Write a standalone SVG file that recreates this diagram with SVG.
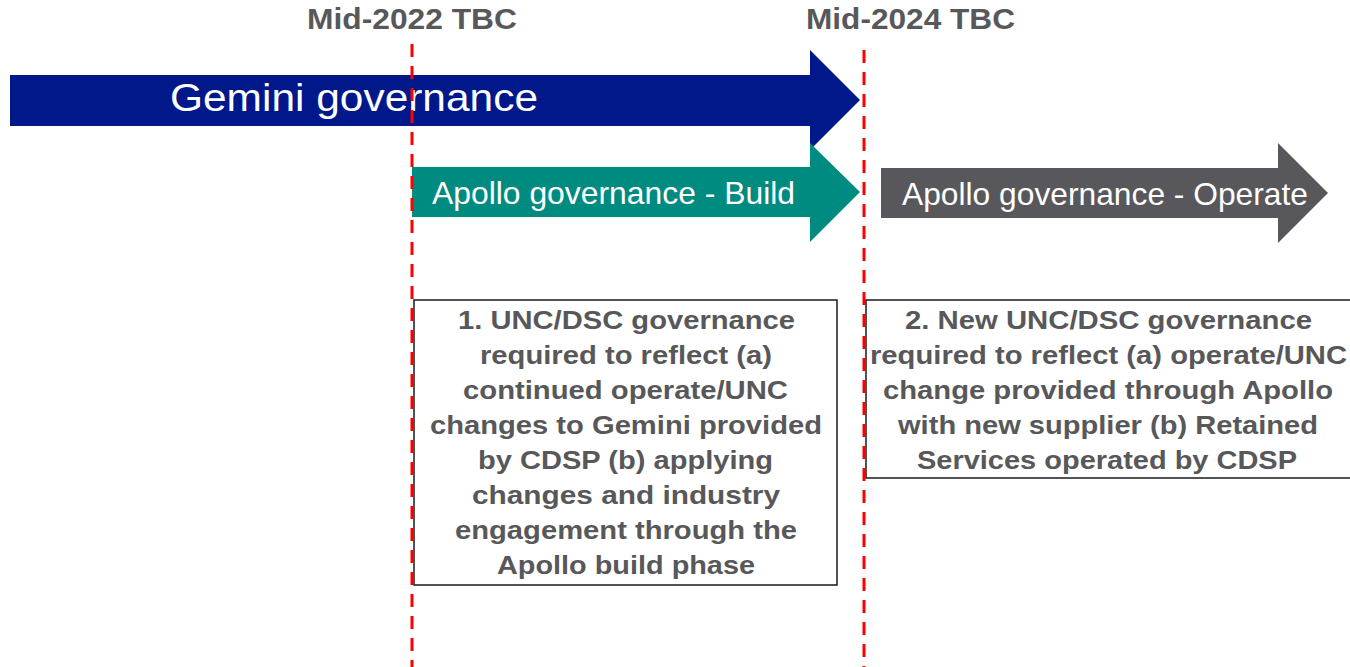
<svg xmlns="http://www.w3.org/2000/svg" width="1350" height="667" viewBox="0 0 1350 667">
<style>
.date{font-family:"Liberation Sans",Arial,sans-serif;font-weight:bold;font-size:29px;fill:#58585a}
.lbl{font-family:"Liberation Sans",Arial,sans-serif;fill:#ffffff}
.box{fill:#ffffff;stroke:#1a1a1a;stroke-width:1.5}
.bt{font-family:"Liberation Sans",Arial,sans-serif;font-weight:bold;font-size:26px;fill:#58585a}
.div{stroke:#ff0000;stroke-width:3;stroke-dasharray:13 9;fill:none}
</style>
<rect width="1350" height="667" fill="#ffffff"/>
<g id="gemini">
<polygon points="10,75 810,75 810,50 860,100 810,150 810,126 10,126" fill="#00188a"/>
<text class="lbl" x="170" y="111" font-size="39" textLength="368" lengthAdjust="spacingAndGlyphs">Gemini governance</text>
</g>
<g id="build">
<polygon points="412,167 810,167 810,143 860,192 810,242 810,217 412,217" fill="#008b80"/>
<text class="lbl" x="432" y="204" font-size="32" textLength="363" lengthAdjust="spacingAndGlyphs">Apollo governance - Build</text>
</g>
<g id="operate">
<polygon points="881,168 1278,168 1278,143 1328,193 1278,243 1278,218 881,218" fill="#58585c"/>
<text class="lbl" x="902" y="205" font-size="32" textLength="406" lengthAdjust="spacingAndGlyphs">Apollo governance - Operate</text>
</g>
<g id="box1">
<rect class="box" x="414" y="300" width="423" height="285"/>
<text class="bt"><tspan x="458" y="329" textLength="337" lengthAdjust="spacingAndGlyphs">1. UNC/DSC governance</tspan><tspan x="480" y="364" textLength="292" lengthAdjust="spacingAndGlyphs">required to reflect (a)</tspan><tspan x="463" y="399" textLength="325" lengthAdjust="spacingAndGlyphs">continued operate/UNC</tspan><tspan x="430" y="434" textLength="392" lengthAdjust="spacingAndGlyphs">changes to Gemini provided</tspan><tspan x="478" y="469" textLength="295" lengthAdjust="spacingAndGlyphs">by CDSP (b) applying</tspan><tspan x="472" y="504" textLength="308" lengthAdjust="spacingAndGlyphs">changes and  industry</tspan><tspan x="455" y="539" textLength="342" lengthAdjust="spacingAndGlyphs">engagement through the</tspan><tspan x="497" y="574" textLength="258" lengthAdjust="spacingAndGlyphs">Apollo build phase</tspan></text>
</g>
<g id="box2">
<rect class="box" x="866" y="300" width="490" height="178"/>
<text class="bt"><tspan x="905" y="329" textLength="407" lengthAdjust="spacingAndGlyphs">2. New UNC/DSC governance</tspan><tspan x="870" y="364" textLength="477" lengthAdjust="spacingAndGlyphs">required to reflect (a) operate/UNC</tspan><tspan x="883" y="399" textLength="450" lengthAdjust="spacingAndGlyphs">change provided through Apollo</tspan><tspan x="898" y="434" textLength="420" lengthAdjust="spacingAndGlyphs">with new supplier (b) Retained</tspan><tspan x="917" y="469" textLength="380" lengthAdjust="spacingAndGlyphs">Services operated by CDSP</tspan></text>
</g>
<g id="connectors">
<line class="div" x1="412" y1="44" x2="412" y2="667"/>
<line class="div" x1="864" y1="50" x2="864" y2="667"/>
</g>
<g id="dates">
<text class="date" x="307" y="29" textLength="210" lengthAdjust="spacingAndGlyphs">Mid-2022 TBC</text>
<text class="date" x="806" y="29" textLength="209" lengthAdjust="spacingAndGlyphs">Mid-2024 TBC</text>
</g>
</svg>
